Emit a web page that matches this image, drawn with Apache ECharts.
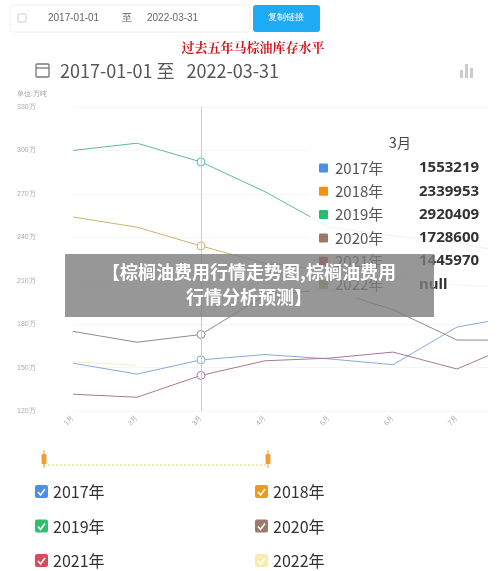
<!DOCTYPE html>
<html><head><meta charset="utf-8">
<script src="https://cdn.jsdelivr.net/npm/echarts@6/dist/echarts.min.js"></script>
<style>html,body{margin:0;padding:0;background:#fff;overflow:hidden}#c{width:530px;height:571px}</style>
</head><body><div id="c"></div>
<script>
const months = ['1月','2月','3月','4月','5月','6月','7月','8月'];
const yTicks = [120,150,180,210,240,270,300,330];
const years = ['2017年','2018年','2019年','2020年','2021年','2022年'];
const s2017 = [153, 145.5, 155.3219, 159, 156, 152, 178, 186];
const s2018 = [254, 247, 233.9953, 222, 217, 212, 207, 205];
const s2019 = [300, 305, 292.0409, 271.5, 247, 241, 236, 228];
const s2020 = [175, 167.5, 172.86, 200, 204, 190, 169, 169];
const s2021 = [131.6, 129.5, 144.597, 154.7, 156.5, 160.7, 149, 168];
const s2022 = [154, 151.5, null, null, null, null, null, null];
const lineColors = ['#86a9d8','#c9b36e','#5fb8a2','#8c8c8c','#a47a93','#f5eec4'];
const tipColors = ['#4a8fe8','#f5900c','#22c06a','#9a7a66','#c8334a','#b5a878'];
const boxColors = ['#4a8fe8','#f09a1a','#2fbf6f','#9a7a6a','#d84a5e','#f6ecb0'];
const allSeries = [s2017,s2018,s2019,s2020,s2021,s2022];

const chart = echarts.init(document.getElementById('c'));
const graphics = [];
graphics.push({type:'rect',shape:{x:10,y:5,width:240,height:27,r:3},style:{fill:'#fff',stroke:'#eee'}});
graphics.push({type:'rect',shape:{x:18,y:14,width:8,height:8,r:1},style:{fill:'none',stroke:'#ccc'}});
graphics.push({type:'text',x:48,y:18,style:{text:'2017-01-01',fill:'#666',font:'10px sans-serif',verticalAlign:'middle'}});
graphics.push({type:'text',x:122,y:18,style:{text:'至',fill:'#555',font:'10px sans-serif',verticalAlign:'middle'}});
graphics.push({type:'text',x:147,y:18,style:{text:'2022-03-31',fill:'#666',font:'10px sans-serif',verticalAlign:'middle'}});
graphics.push({type:'rect',shape:{x:253,y:5,width:67,height:27,r:3},style:{fill:'#1eaaf5'}});
graphics.push({type:'text',x:286,y:18,style:{text:'复制链接',fill:'#fff',font:'9px sans-serif',align:'center',verticalAlign:'middle'}});
graphics.push({type:'text',x:253,y:47,style:{text:'过去五年马棕油库存水平',fill:'#d4141c',font:'bold 13px "Noto Serif CJK SC", serif',align:'center',verticalAlign:'middle'}});
graphics.push({type:'rect',shape:{x:36,y:64,width:13,height:13,r:1},style:{fill:'none',stroke:'#777',lineWidth:1.3}});
graphics.push({type:'line',shape:{x1:36,y1:68,x2:49,y2:68},style:{stroke:'#777',lineWidth:1.3}});
graphics.push({type:'text',x:60,y:71,style:{text:'2017-01-01 至   2022-03-31',fill:'#555',font:'18px "Noto Sans CJK SC", sans-serif',verticalAlign:'middle'}});
[[460,70,3],[465,64,3],[470,68,3]].forEach(b=>graphics.push({type:'rect',shape:{x:b[0],y:b[1],width:b[2],height:78-b[1]},style:{fill:'#ccc'}}));
graphics.push({type:'text',x:17,y:94,style:{text:'单位:万吨',fill:'#999',font:'7px sans-serif',verticalAlign:'middle'}});
graphics.push({type:'rect',z:50,shape:{x:488,y:95,width:50,height:340},style:{fill:'#fff'}});
graphics.push({type:'rect',z:60,shape:{x:310,y:128,width:178,height:170},style:{fill:'rgba(255,255,255,0.85)'}});
graphics.push({type:'text',z:61,x:400,y:143,style:{text:'3月',fill:'#444',font:'14px "Noto Sans CJK SC", sans-serif',align:'center',verticalAlign:'middle'}});
years.forEach((y,i)=>{
  const yy = 168 + i*23.3;
  graphics.push({type:'rect',z:61,shape:{x:319,y:yy-4.5,width:9,height:9,r:1},style:{fill:tipColors[i]}});
  graphics.push({type:'text',z:61,x:335,y:yy,style:{text:y,fill:'#555',font:'15px "Noto Sans CJK SC", sans-serif',verticalAlign:'middle'}});
  const v = allSeries[i][2];
  graphics.push({type:'text',z:61,x:419,y:yy,style:{text:v==null?'null':String(Math.round(v*10000)),fill:'#333',font:'bold 15px "Noto Sans", sans-serif',verticalAlign:'middle'}});
});
graphics.push({type:'rect',z:70,shape:{x:65,y:254,width:369,height:63},style:{fill:'rgba(125,125,125,0.8)'}});
graphics.push({type:'text',z:71,x:249,y:285,style:{text:'【棕榈油费用行情走势图,棕榈油费用\n行情分析预测】',fill:'#fff',font:'bold 18px "Noto Sans CJK SC", sans-serif',align:'center',verticalAlign:'middle',lineHeight:25}});
graphics.push({type:'line',shape:{x1:44,y1:465,x2:268,y2:465},style:{stroke:'#f3e9b0',lineWidth:2,lineDash:[2,2]}});
[44,268].forEach(x=>{
  graphics.push({type:'line',shape:{x1:x,y1:450,x2:x,y2:468},style:{stroke:'#e0a030',lineWidth:1}});
  graphics.push({type:'rect',shape:{x:x-2.5,y:454,width:5,height:10,r:1},style:{fill:'#f0a030'}});
});
years.forEach((y,i)=>{
  const cx = i%2===0 ? 35 : 255;
  const cy = 492 + Math.floor(i/2)*34.5;
  graphics.push({type:'rect',shape:{x:cx,y:cy-7,width:13,height:13,r:2},style:{fill:boxColors[i]}});
  graphics.push({type:'polyline',shape:{points:[[cx+3,cy],[cx+5.5,cy+3],[cx+10,cy-3]]},style:{stroke:'#fff',lineWidth:1.6,fill:null}});
  graphics.push({type:'text',x:cx+18,y:cy,style:{text:y,fill:'#333',font:'16px "Noto Sans CJK SC", sans-serif',verticalAlign:'middle'}});
});

chart.setOption({
  animation:false,
  grid:{left:73,right:9,top:107,height:304},
  xAxis:{type:'category',data:months,boundaryGap:false,
    axisLine:{show:false},axisTick:{show:false},
    axisLabel:{rotate:45,fontSize:7,color:'#aaa',margin:6},
    splitLine:{show:false}},
  yAxis:{type:'value',min:yTicks[0],max:yTicks[yTicks.length-1],interval:30,
    axisLabel:{formatter:'{value}万',fontSize:7,color:'#aaa',align:'left',margin:56},
    splitLine:{lineStyle:{color:'#f6f6f6'}},axisLine:{show:false},axisTick:{show:false}},
  tooltip:{show:false},
  series: years.map((y,i)=>({
    name:y,type:'line',data:allSeries[i],
    symbol:'circle',
    symbolSize:(v,p)=> p.dataIndex===2 ? 8 : 0,
    showSymbol:true,
    itemStyle:{color:'#fff',borderColor:lineColors[i],borderWidth:1},
    lineStyle:{color:lineColors[i],width:1},
    markLine: i===0 ? {silent:true,symbol:'none',label:{show:false},lineStyle:{color:'#c5ccd6',type:'solid',width:1},data:[{xAxis:'3月'}]} : undefined
  })),
  graphic:graphics
});
</script></body></html>
